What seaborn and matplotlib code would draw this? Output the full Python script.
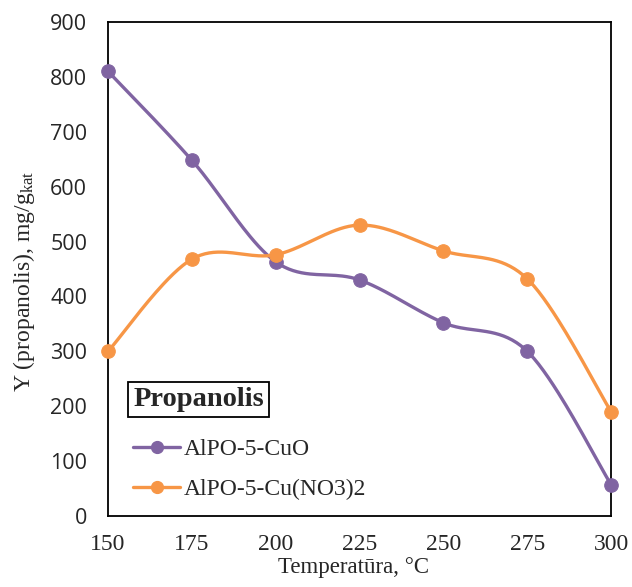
import numpy as np
import pandas as pd
import seaborn as sns
import matplotlib
matplotlib.use('Agg')
import matplotlib.pyplot as plt

# Data
temps = [150, 175, 200, 225, 250, 275, 300]
cuo = [810, 648, 463, 430, 352, 300, 57]
cuno3 = [300, 468, 476, 530, 483, 432, 190]
series_names = ['AlPO-5-CuO', 'AlPO-5-Cu(NO3)2']
colors = ['#8064A2', '#F79646']

sns.set_style('white')
plt.rcParams['font.family'] = ['Liberation Serif', 'DejaVu Serif']
plt.rcParams['mathtext.fontset'] = 'custom'
plt.rcParams['mathtext.rm'] = 'Liberation Serif'
plt.rcParams['mathtext.it'] = 'Liberation Serif:italic'


def smooth(x, y, n=40):
    # Excel-like smoothed line (Catmull-Rom style Bezier segments)
    x = np.asarray(x, float)
    y = np.asarray(y, float)
    px = np.concatenate([[x[0]], x, [x[-1]]])
    py = np.concatenate([[y[0]], y, [y[-1]]])
    xs, ys = [], []
    t = np.linspace(0, 1, n)
    for i in range(1, len(px) - 2):
        p0 = np.array([px[i], py[i]])
        p3 = np.array([px[i + 1], py[i + 1]])
        c1 = p0 + (np.array([px[i + 1], py[i + 1]]) - np.array([px[i - 1], py[i - 1]])) / 6
        c2 = p3 - (np.array([px[i + 2], py[i + 2]]) - np.array([px[i], py[i]])) / 6
        b = ((1 - t) ** 3)[:, None] * p0 + (3 * (1 - t) ** 2 * t)[:, None] * c1 \
            + (3 * (1 - t) * t ** 2)[:, None] * c2 + (t ** 3)[:, None] * p3
        xs.extend(b[:, 0])
        ys.extend(b[:, 1])
    return xs, ys


fig = plt.figure(figsize=(6.32, 5.87), dpi=100)
ax = fig.add_axes([0.171, 0.121, 0.796, 0.8415])

for vals, name, col in zip([cuo, cuno3], series_names, colors):
    sx, sy = smooth(temps, vals)
    curve = pd.DataFrame({'x': sx, 'y': sy})
    sns.lineplot(data=curve, x='x', y='y', ax=ax, color=col, lw=2.4, sort=False,
                 estimator=None, label='_nolegend_')
    pts = pd.DataFrame({'x': temps, 'y': vals})
    sns.scatterplot(data=pts, x='x', y='y', ax=ax, color=col, s=95, edgecolor=col,
                    zorder=5, clip_on=False, legend=False)
    ax.plot([], [], color=col, lw=2.4, marker='o', markersize=8.5, label=name)

ax.set_xlim(150, 300)
ax.set_ylim(0, 900)
ax.set_xticks(temps)
ax.set_yticks(range(0, 901, 100))
ax.tick_params(axis='y', length=0, pad=15)
ax.tick_params(axis='x', length=0, labelsize=17, pad=13)
for lab in ax.get_yticklabels():
    lab.set_fontfamily('Open Sans')
    lab.set_fontsize(15.5)

for sp in ax.spines.values():
    sp.set_color('black')
    sp.set_linewidth(1.3)

ax.set_xlabel('Temperatūra, °C', fontsize=16.5)
ax.set_ylabel(r'Y (propanolis), mg/g$_{\mathrm{kat}}$', fontsize=17)
ax.xaxis.set_label_coords(0.487, -0.083)
ax.yaxis.set_label_coords(-0.141, 0.475)

leg = ax.legend(loc='lower left', bbox_to_anchor=(0.031, 0.013), frameon=False,
                title='Propanolis', fontsize=17, handlelength=2.0,
                handletextpad=0.15, labelspacing=0.78, borderaxespad=0,
                borderpad=0.4)
leg.get_title().set_fontweight('bold')
leg.get_title().set_fontsize(20.5)
leg.get_title().set_bbox(dict(facecolor='white', edgecolor='black', lw=1.3, pad=3.5))
leg._legend_box.align = 'left'
leg._legend_box.sep = 0.78 * 17 + 6

fig.savefig('out.png', dpi=100)
